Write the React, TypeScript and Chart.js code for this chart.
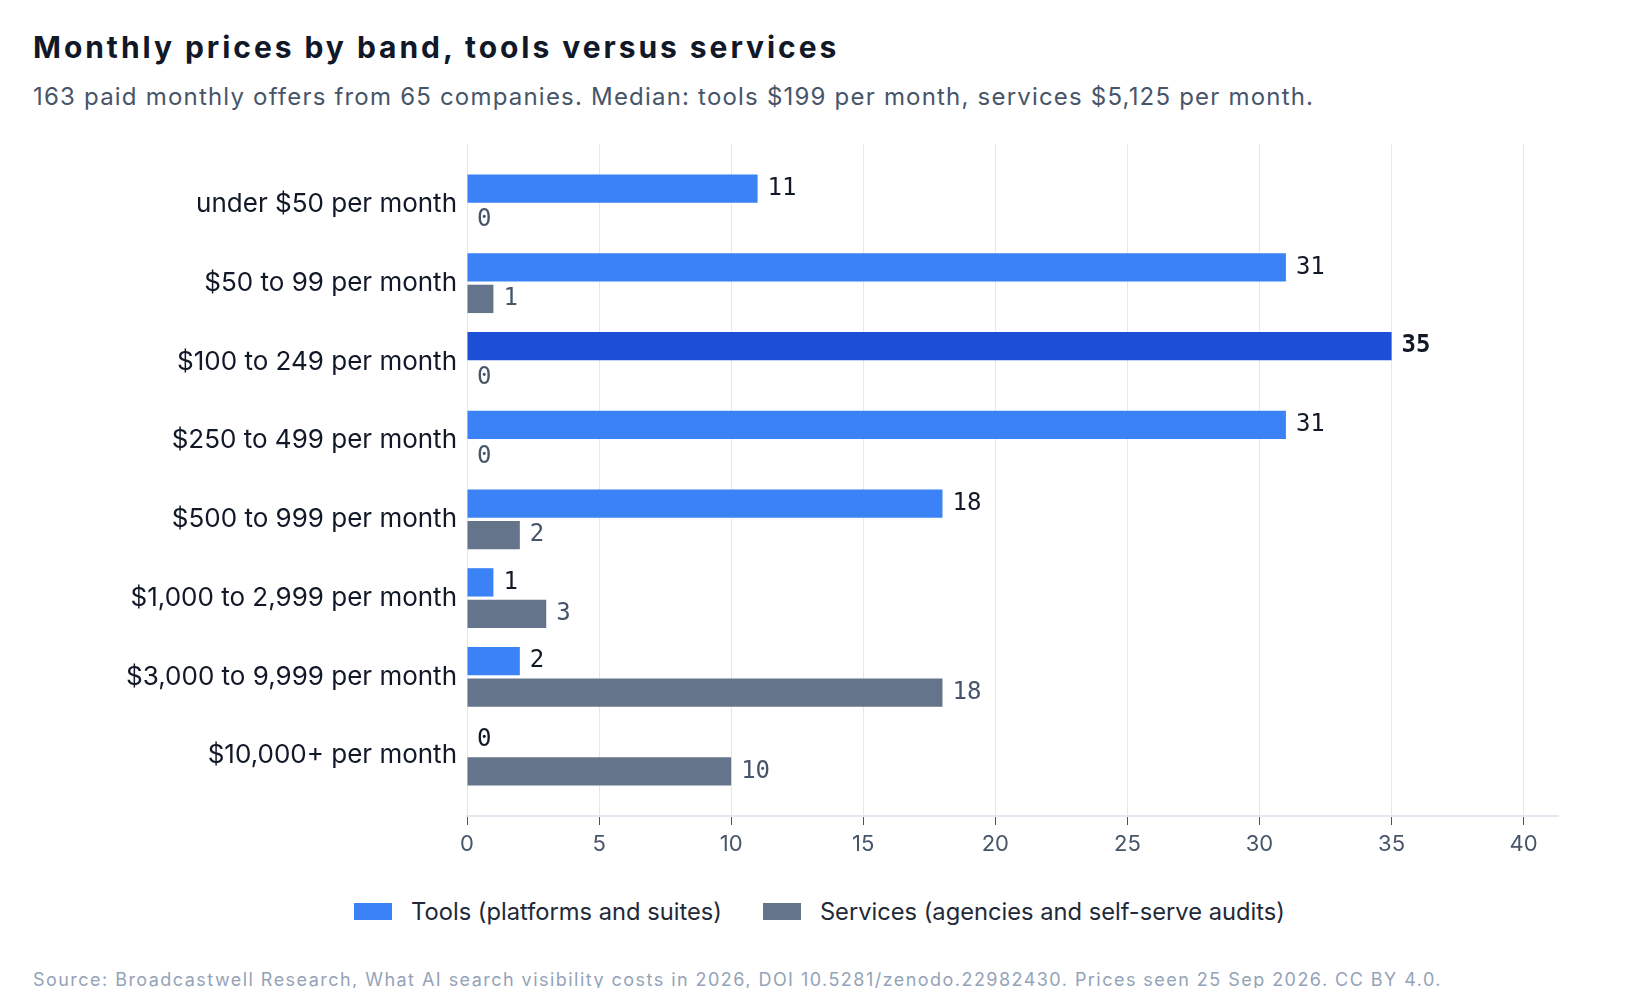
import React, { useEffect, useRef } from "react";
import { Chart, registerables } from "chart.js";

Chart.register(...registerables);

const categories = [
  "under $50 per month",
  "$50 to 99 per month",
  "$100 to 249 per month",
  "$250 to 499 per month",
  "$500 to 999 per month",
  "$1,000 to 2,999 per month",
  "$3,000 to 9,999 per month",
  "$10,000+ per month",
];
const toolsValues = [11, 31, 35, 31, 18, 1, 2, 0];
const servicesValues = [0, 1, 0, 0, 2, 3, 18, 10];
const xTickValues = [0, 5, 10, 15, 20, 25, 30, 35, 40];
const xMax = 41.3;
const seriesNames = ["Tools (platforms and suites)", "Services (agencies and self-serve audits)"];

const titleText = "Monthly prices by band, tools versus services";
const subtitleText =
  "163 paid monthly offers from 65 companies. Median: tools $199 per month, services $5,125 per month.";
const sourceText =
  "Source: Broadcastwell Research, What AI search visibility costs in 2026, DOI 10.5281/zenodo.22982430. Prices seen 25 Sep 2026. CC BY 4.0.";

const TOOLS_COLOR = "#3b82f6";
const TOOLS_MAX_COLOR = "#1d4ed8";
const SERVICES_COLOR = "#64748b";

const maxTools = Math.max(...toolsValues);

const valueLabels = {
  id: "valueLabels",
  afterDatasetsDraw(chart: any) {
    const ctx = chart.ctx;
    chart.data.datasets.forEach((_ds: any, di: number) => {
      const meta = chart.getDatasetMeta(di);
      meta.data.forEach((bar: any, i: number) => {
        const v = di === 0 ? toolsValues[i] : servicesValues[i];
        const isMax = di === 0 && v === maxTools;
        ctx.save();
        ctx.font = `${isMax ? "bold " : ""}24px "DejaVu Sans Mono"`;
        ctx.fillStyle = di === 0 ? "#111827" : "#475569";
        ctx.textBaseline = "middle";
        ctx.textAlign = "left";
        ctx.fillText(String(v), bar.x + 10, bar.y);
        ctx.restore();
      });
    });
  },
};

function BarChart() {
  const ref = useRef<HTMLCanvasElement | null>(null);
  useEffect(() => {
    if (!ref.current) return;
    const chart = new Chart(ref.current, {
      type: "bar",
      data: {
        datasets: [
          {
            label: seriesNames[0],
            data: toolsValues.map((v, i) => ({ x: v, y: i })),
            backgroundColor: toolsValues.map((v) => (v === maxTools ? TOOLS_MAX_COLOR : TOOLS_COLOR)),
            categoryPercentage: 0.8,
            barPercentage: 0.9,
          },
          {
            label: seriesNames[1],
            data: servicesValues.map((v, i) => ({ x: v, y: i })),
            backgroundColor: SERVICES_COLOR,
            categoryPercentage: 0.8,
            barPercentage: 0.9,
          },
        ],
      },
      options: {
        indexAxis: "y",
        animation: false,
        responsive: true,
        maintainAspectRatio: false,
        layout: { autoPadding: false, padding: { top: 14, right: 73, bottom: 0, left: 0 } },
        plugins: {
          legend: { display: false },
          tooltip: { enabled: false },
          title: { display: false },
        },
        scales: {
          x: {
            type: "linear",
            min: 0,
            max: xMax,
            afterBuildTicks: (s: any) => {
              s.ticks = xTickValues.map((v) => ({ value: v }));
            },
            afterFit: (s: any) => {
              s.height = 60;
              s.paddingLeft = 0;
              s.paddingRight = 0;
            },
            ticks: {
              font: { family: "Inter", size: 22 },
              color: "#475569",
              padding: 6,
            },
            grid: {
              color: "#e5e7eb",
              lineWidth: 1,
              tickColor: "#475569",
              tickLength: 9,
              drawTicks: true,
            },
            border: { display: true, color: "#e2e8f0", width: 2 },
          },
          y: {
            type: "linear",
            reverse: true,
            offset: false,
            min: -0.767,
            max: 7.767,
            afterBuildTicks: (s: any) => {
              s.ticks = categories.map((_c, i) => ({ value: i }));
            },
            afterFit: (s: any) => {
              s.width = 459;
              s.paddingTop = 0;
              s.paddingBottom = 0;
            },
            ticks: {
              callback: (v: any) => categories[Math.round(Number(v))],
              font: { family: "Inter", size: 26 },
              color: "#111827",
              padding: 10,
              autoSkip: false,
            },
            grid: { display: false, drawTicks: false, offset: false },
            border: { display: false },
          },
        },
      },
      plugins: [valueLabels],
    });
    return () => chart.destroy();
  }, []);
  return <canvas ref={ref} />;
}

export default function App() {
  const font = "Inter, 'Noto Sans', sans-serif";
  const textBase: React.CSSProperties = {
    position: "absolute",
    whiteSpace: "nowrap",
  };
  return (
    <div style={{ position: "relative", width: 1623, height: 980, fontFamily: font }}>
      <div
        style={{
          ...textBase,
          top: 21,
          left: 25,
          fontSize: 30,
          lineHeight: "36px",
          fontWeight: 700,
          letterSpacing: "2.95px",
          color: "#111827",
        }}
      >
        {titleText}
      </div>
      <div
        style={{
          ...textBase,
          top: 75,
          left: 25,
          fontSize: 24,
          lineHeight: "28px",
          letterSpacing: "1.2px",
          color: "#475569",
        }}
      >
        {subtitleText}
      </div>
      <div style={{ position: "absolute", top: 122, left: 0, width: 1623, height: 746 }}>
        <BarChart />
      </div>
      <div
        style={{
          ...textBase,
          top: 888,
          left: 0,
          width: 1623,
          height: 30,
          display: "flex",
          justifyContent: "center",
          alignItems: "center",
          gap: 41,
          fontSize: 23.7,
          color: "#1f2937",
        }}
      >
        {seriesNames.map((name, i) => (
          <div key={name} style={{ display: "flex", alignItems: "center" }}>
            <span
              style={{
                display: "inline-block",
                width: 38,
                height: 17,
                background: i === 0 ? TOOLS_COLOR : SERVICES_COLOR,
                marginRight: 19,
              }}
            />
            <span>{name}</span>
          </div>
        ))}
      </div>
      <div
        style={{
          ...textBase,
          top: 961,
          left: 25,
          fontSize: 18,
          lineHeight: "22px",
          letterSpacing: "1.46px",
          color: "#94a3b8",
        }}
      >
        {sourceText}
      </div>
    </div>
  );
}
